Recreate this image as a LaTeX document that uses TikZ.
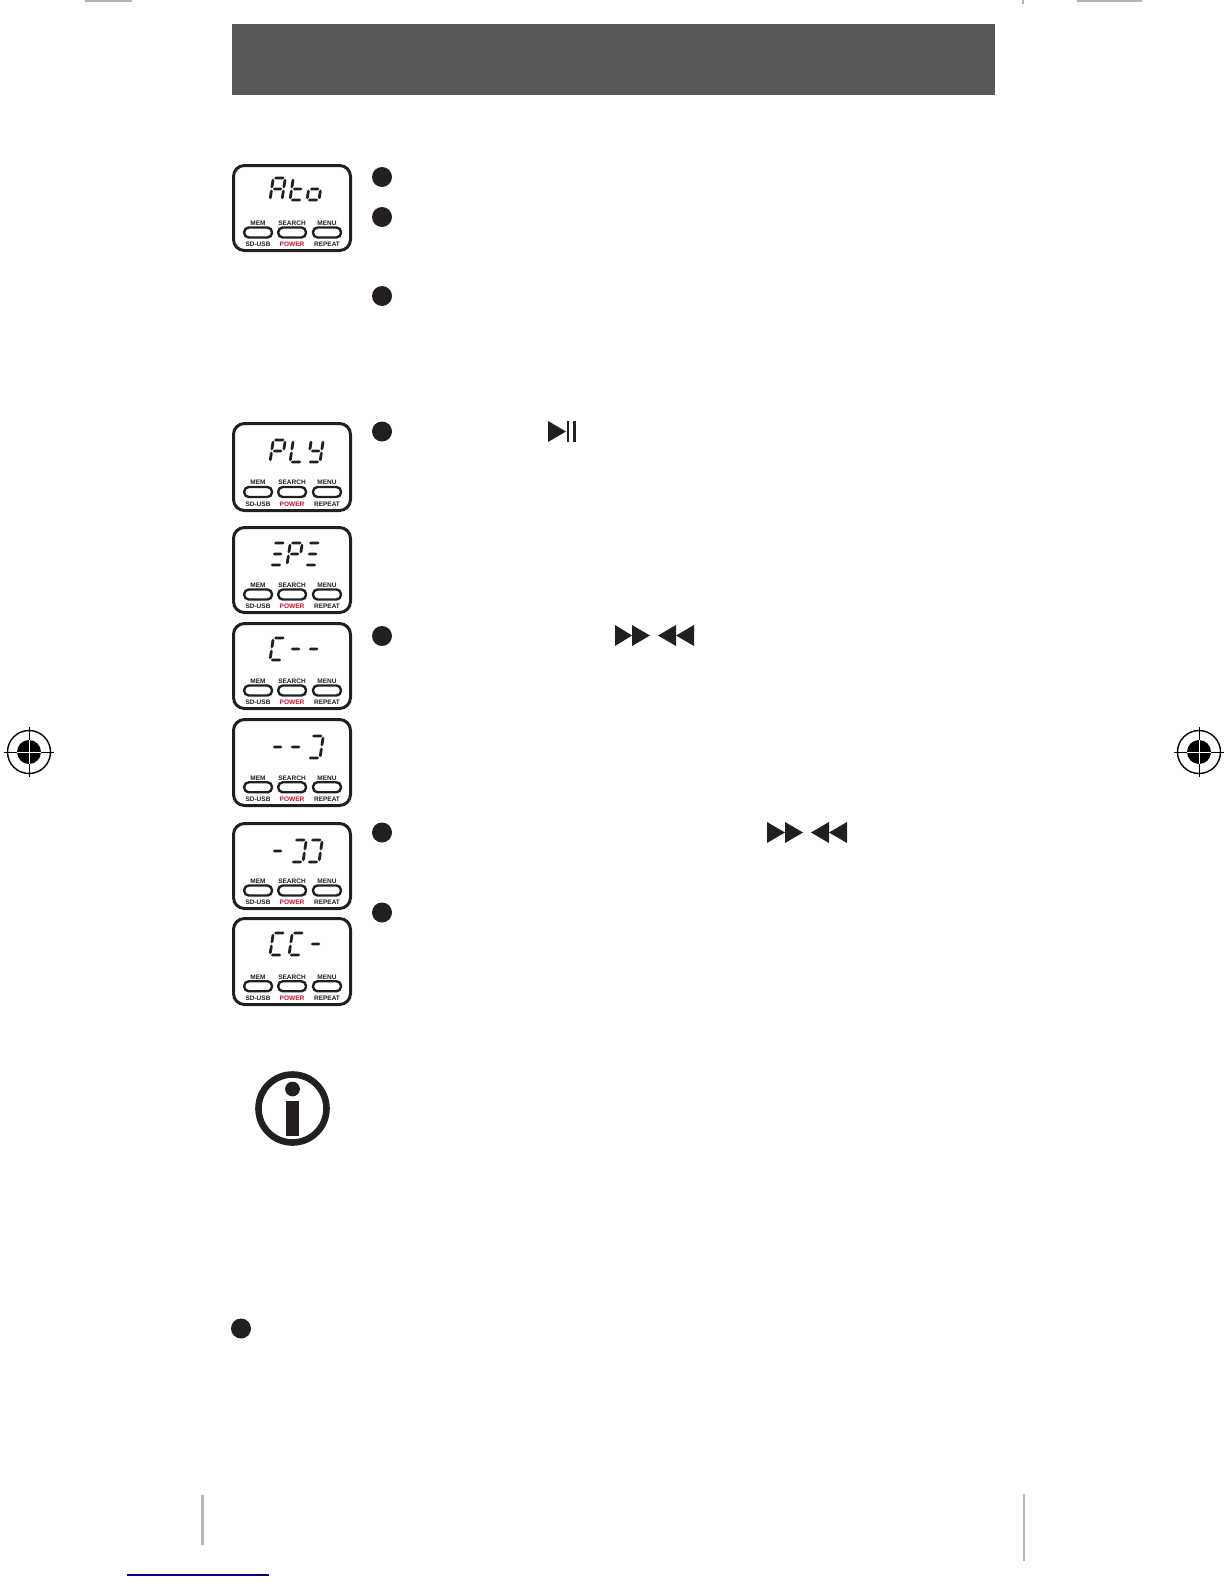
\documentclass[tikz,border=0pt]{standalone}
\usepackage{fontspec}
\setmainfont{Liberation Sans}
\definecolor{ink}{HTML}{231F20}
\definecolor{banner}{HTML}{595757}
\definecolor{cut}{HTML}{B5B5B5}
\definecolor{rule}{HTML}{000080}
\definecolor{powerred}{HTML}{C8102E}
\tikzset{
  panelbox/.style={draw=ink,line width=1.5pt,rounded corners=5.5pt,fill=white},
  btn/.style={draw=ink,line width=1.2pt,rounded corners=2.3pt},
  seg/.style={fill=ink,draw=none},
  lbl/.style={inner sep=0pt,text=ink,font=\fontsize{3.25}{4}\selectfont\bfseries},
  redlbl/.style={lbl,text=powerred},
  dotb/.style={fill=ink,draw=none},
  icon/.style={fill=ink,draw=none},
  regline/.style={draw=black,line width=0.5pt},
  cutline/.style={draw=cut,line width=1.2pt}
}
\newcommand{\hseg}[3]{\fill[seg] (#1,#3)--(#1+1.6,#3-1.4)--(#2-1.6,#3-1.4)--(#2,#3)--(#2-1.6,#3+1.4)--(#1+1.6,#3+1.4)--cycle;}
\newcommand{\vseg}[3]{\fill[seg] (#1,#2)--(#1+1.4,#2+1.6)--(#1+1.4,#3-1.6)--(#1,#3)--(#1-1.4,#3-1.6)--(#1-1.4,#2+1.6)--cycle;}
\def\dsega{\hseg{0.8}{11.2}{-22}}
\def\dsegb{\vseg{12}{-21.2}{-11.6}}
\def\dsegc{\vseg{12}{-10.4}{-0.8}}
\def\dsegd{\hseg{0.8}{11.2}{0}}
\def\dsege{\vseg{0}{-10.4}{-0.8}}
\def\dsegf{\vseg{0}{-21.2}{-11.6}}
\def\dsegg{\hseg{1.2}{10.8}{-11}}
\newcommand{\dig}[3]{\begin{scope}[shift={(#1,#2)},xslant=0.15]
  \foreach \s in {#3}{\csname dseg\s\endcsname}\end{scope}}
\newcommand{\panel}[4]{\begin{scope}[shift={(232,#2)}]
  \draw[panelbox] (1.5,1.5) rectangle (118.5,#3-1.5);
  \begin{scope}[shift={(0,{(#3-88)*0.75+0.5})}]
  \draw[btn] (12.2,63) rectangle (40,73);
  \draw[btn] (46.2,63) rectangle (74,73);
  \draw[btn] (81,63) rectangle (109,73);
  \node[lbl] (#1-mem) at (26,58.6) {MEM};
  \node[lbl] (#1-search) at (60,58.6) {SEARCH};
  \node[lbl] (#1-menu) at (95,58.6) {MENU};
  \node[lbl] (#1-sd) at (26,80) {SD-USB};
  \node[redlbl] (#1-power) at (60,80) {POWER};
  \node[lbl] (#1-repeat) at (95,80) {REPEAT};
  \end{scope}
  #4
\end{scope}}
\newcommand{\regmark}[1]{\begin{scope}[shift={(#1,752)}]
  \draw[regline,line width=0.7pt] (0,0) circle (21.5);
  \fill[black] (0,0) circle (12);
  \draw[regline] (-25,0)--(-12,0) (12,0)--(25,0) (0,-25)--(0,-12) (0,12)--(0,25);
  \draw[white,line width=0.5pt] (-12,0)--(12,0) (0,-12)--(0,12);
\end{scope}}
\begin{document}
\begin{tikzpicture}[x=0.5pt,y=-0.5pt]
\useasboundingbox (0,0) rectangle (1224,1584);
% banner
\fill[banner] (232,24) rectangle (995,95);
% crop marks
\draw[cutline] (85,1)--(132,1);
\draw[cutline] (1077,1)--(1142,1);
\draw[cutline] (1023,0)--(1023,4);
\draw[cutline,line width=1.5pt] (202,1495)--(202,1545);
\draw[cutline,line width=1.3pt] (1024,1494)--(1024,1561);
\draw[rule,line width=0.8pt] (127,1575)--(269,1575);
\regmark{29}
\regmark{1199}
% panels
\panel{ato}{164}{88}{\dig{38}{36}{a,b,c,e,f,g}\dig{58}{36}{d,e,f,g}\dig{75}{36}{c,d,e,g}}
\panel{ply}{422}{90}{\dig{38}{40}{a,b,e,f,g}\dig{58}{40}{d,e,f}\dig{76}{40}{b,c,d,f,g}}
\panel{ep}{526}{88}{\dig{38}{39}{a,d,g}\dig{55}{39}{a,b,e,f,g}\dig{73}{39}{a,d,g}}
\panel{cdd}{622}{88}{\dig{38}{38}{a,d,e,f}\dig{56}{38}{g}\dig{74}{38}{g}}
\panel{ddj}{718}{89}{\dig{38}{40}{g}\dig{56}{40}{g}\dig{76}{40}{a,b,c,d}}
\panel{djj}{822}{88}{\dig{38}{40}{g}\dig{59}{40}{a,b,c,d}\dig{75}{40}{a,b,c,d}}
\panel{ccd}{917}{89}{\dig{38}{38}{a,d,e,f}\dig{57}{38}{a,d,e,f}\dig{76}{38}{g}}
% bullets
\foreach \px/\py in {382/177,382/217,382/296,382/431.5,382/636,382/832.5,382/912.5,241/1328.5}
  \fill[dotb] (\px,\py) circle (10);
% play/pause
\fill[icon] (548,421)--(566,431.5)--(548,442)--cycle;
\fill[icon] (566.5,421) rectangle (569,442);
\fill[icon] (573,421) rectangle (575.5,442);
% ff/rew row 1
\fill[icon] (615,625)--(632,635.5)--(615,646)--cycle;
\fill[icon] (632,625)--(650,635.5)--(632,646)--cycle;
\fill[icon] (676,625)--(658,635.5)--(676,646)--cycle;
\fill[icon] (694,625)--(676,635.5)--(694,646)--cycle;
% ff/rew row 2
\fill[icon] (767,822)--(785,832.5)--(767,843)--cycle;
\fill[icon] (785,822)--(803,832.5)--(785,843)--cycle;
\fill[icon] (829,822)--(811,832.5)--(829,843)--cycle;
\fill[icon] (847,822)--(829,832.5)--(847,843)--cycle;
% info
\draw[draw=ink,line width=3.3pt] (292.5,1108.5) circle (34);
\fill[icon] (292.5,1089) circle (7.4);
\fill[icon] (286,1101) rectangle (299,1136);
\end{tikzpicture}
\end{document}
